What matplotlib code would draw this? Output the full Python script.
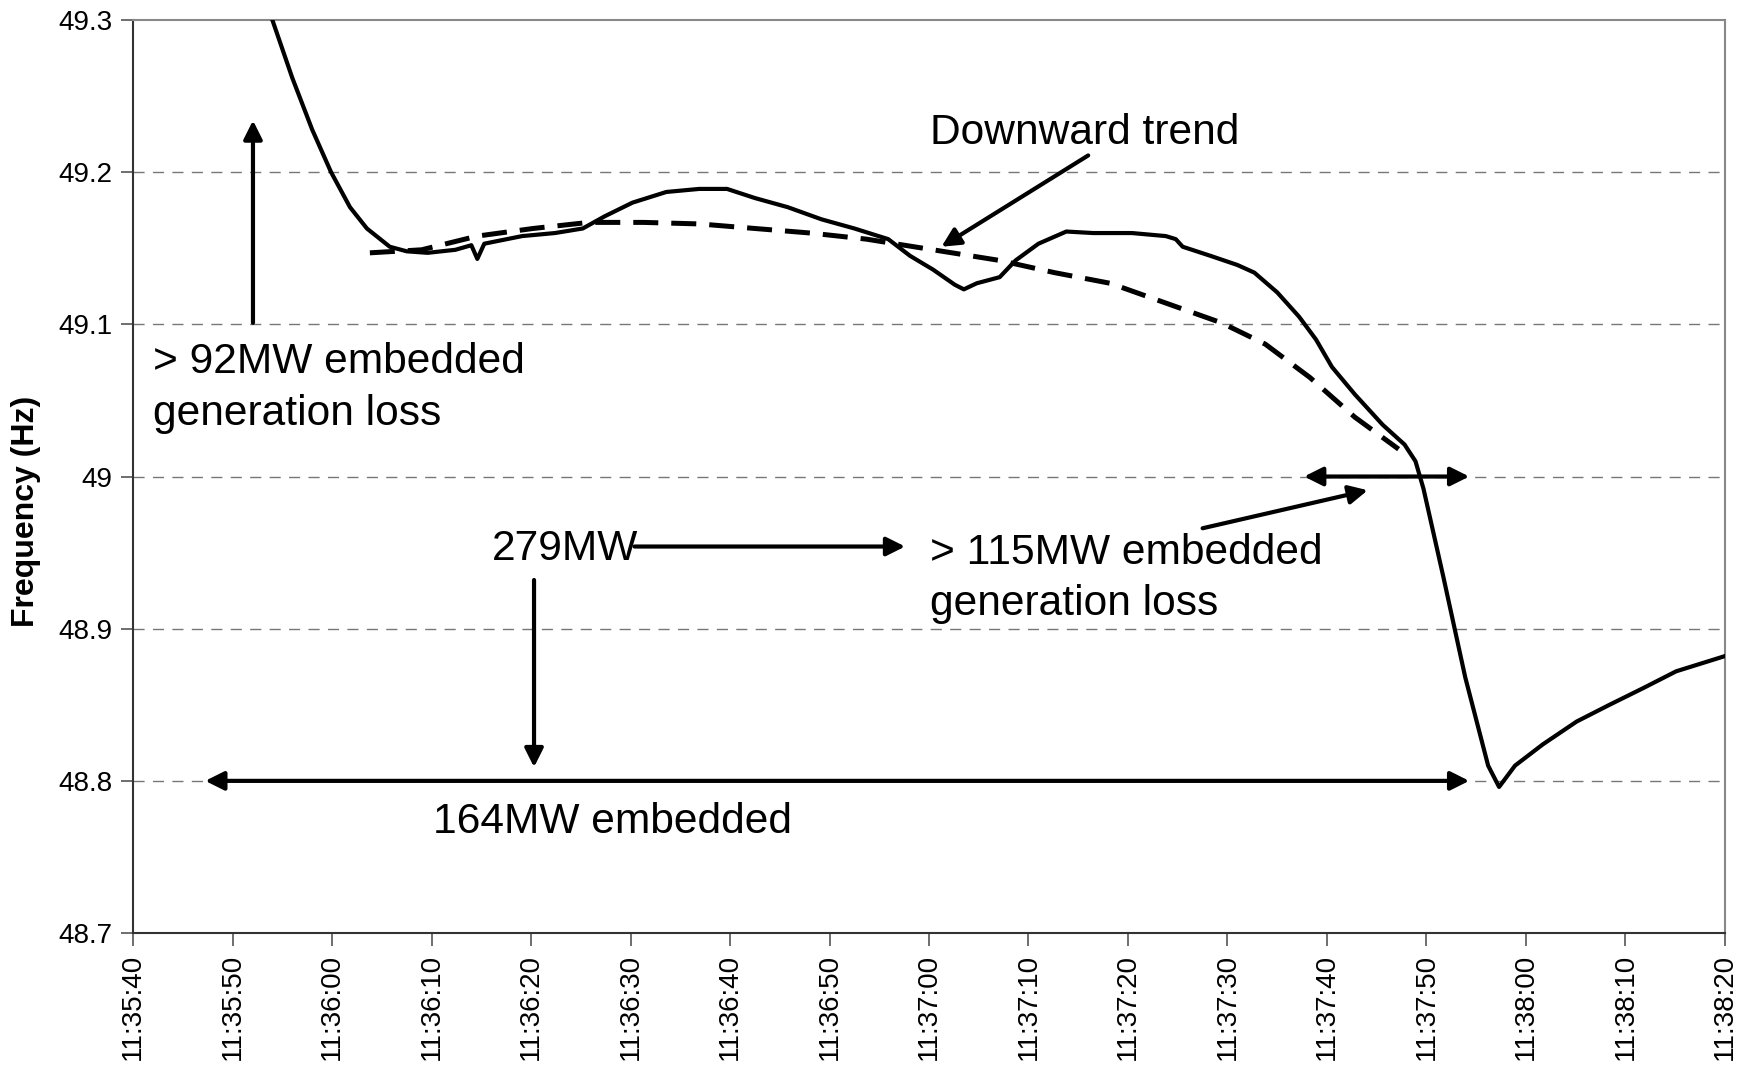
import matplotlib
matplotlib.use("Agg")
import matplotlib.pyplot as plt

plt.rcParams['font.family'] = ['Liberation Sans', 'DejaVu Sans']

# ---- data (seconds after 11:35:40) ----
freq_t = [13.0, 14.0, 16.0, 18.0, 19.9, 21.8, 23.5, 25.8, 27.5, 29.6, 32.4, 34.0, 34.6, 35.3,
          39.1, 42.4, 45.2, 47.4, 50.2, 53.6, 56.9, 59.7, 62.5, 65.8, 69.2, 72.5, 75.9,
          78.1, 80.4, 82.6, 83.5, 84.8, 87.1, 88.7, 91.0, 93.8, 96.5, 100.4, 103.8,
          104.8, 105.5, 108.3, 111.0, 112.7, 115.0, 117.2, 118.9, 120.5, 122.8, 125.6,
          127.8, 128.9, 129.7, 131.7, 133.9, 136.2, 137.3, 138.9, 141.7, 145.1,
          148.4, 151.8, 155.1, 160.0]
freq_hz = [49.320, 49.300, 49.262, 49.228, 49.200, 49.177, 49.163, 49.151, 49.148, 49.147,
           49.149, 49.152, 49.143, 49.153, 49.158, 49.160, 49.163, 49.171, 49.180, 49.187,
           49.189, 49.189, 49.183, 49.177, 49.169, 49.163, 49.156, 49.145, 49.136, 49.126,
           49.123, 49.127, 49.131, 49.142, 49.153, 49.161, 49.160, 49.160, 49.158, 49.156,
           49.151, 49.145, 49.139, 49.134, 49.121, 49.105, 49.090, 49.072, 49.054, 49.034,
           49.021, 49.010, 48.992, 48.934, 48.868, 48.810, 48.796, 48.810, 48.824, 48.839,
           48.850, 48.861, 48.872, 48.882]

trend_t = [23.8, 29.0, 34.6, 40.2, 45.8, 51.3, 56.9, 62.5, 68.1, 73.7, 80.4, 87.1, 92.6,
           98.2, 103.8, 109.4, 113.8, 118.3, 122.8, 127.2]
trend_hz = [49.147, 49.149, 49.158, 49.163, 49.167, 49.167, 49.166, 49.163, 49.160, 49.156,
            49.149, 49.142, 49.134, 49.127, 49.114, 49.101, 49.087, 49.065, 49.039, 49.018]

tick_secs = [0, 10, 20, 30, 40, 50, 60, 70, 80, 90, 100, 110, 120, 130, 140, 150, 160]
tick_labels = ["11:35:40", "11:35:50", "11:36:00", "11:36:10", "11:36:20", "11:36:30",
               "11:36:40", "11:36:50", "11:37:00", "11:37:10", "11:37:20", "11:37:30",
               "11:37:40", "11:37:50", "11:38:00", "11:38:10", "11:38:20"]
y_ticks = [48.7, 48.8, 48.9, 49.0, 49.1, 49.2, 49.3]
y_labels = ["48.7", "48.8", "48.9", "49", "49.1", "49.2", "49.3"]

fig = plt.figure(figsize=(17.42, 10.70), dpi=100)
ax = fig.add_axes([0.0764, 0.128, 0.9138, 0.8533])

ax.plot(freq_t, freq_hz, color='black', lw=3.0, solid_joinstyle='round', zorder=3)
ax.plot(trend_t, trend_hz, color='black', lw=3.6, dashes=(5, 2.6), zorder=3)

ax.set_xlim(0, 160)
ax.set_ylim(48.7, 49.3)
ax.set_xticks(tick_secs)
ax.set_xticklabels(tick_labels, rotation=90, fontsize=20)
ax.set_yticks(y_ticks)
ax.set_yticklabels(y_labels, fontsize=20)
ax.tick_params(axis='both', direction='out', length=9, width=1.2, color='#555555', pad=6)

for g in [48.8, 48.9, 49.0, 49.1, 49.2]:
    ax.axhline(g, color='#777777', lw=1.0, dashes=(8, 6), zorder=1)

for side in ['left', 'bottom']:
    ax.spines[side].set_color('#333333')
    ax.spines[side].set_linewidth(1.5)
for side in ['top', 'right']:
    ax.spines[side].set_color('#888888')
    ax.spines[side].set_linewidth(1.5)

ax.set_ylabel("Frequency (Hz)", fontsize=23, fontweight='bold')
ax.yaxis.set_label_coords(-0.058, 0.462)

fs = 30.6
arrow = dict(arrowstyle='-|>', lw=3, color='black', mutation_scale=28, shrinkA=0, shrinkB=0)
darrow = dict(arrowstyle='<|-|>', lw=3, color='black', mutation_scale=28, shrinkA=0, shrinkB=0)

# >92MW annotation
ax.annotate("", xy=(12.05, 49.234), xytext=(12.05, 49.101), arrowprops=arrow)
ax.text(2.0, 49.058, "> 92MW embedded\ngeneration loss", fontsize=fs, ha='left', va='center',
        linespacing=1.38)

# Downward trend
ax.text(80.1, 49.2256, "Downward trend", fontsize=fs, ha='left', va='center')
ax.annotate("", xy=(81.25, 49.151), xytext=(96.0, 49.211), arrowprops=arrow)

# 279MW
ax.text(36.05, 48.9526, "279MW", fontsize=fs, ha='left', va='center')
ax.annotate("", xy=(77.6, 48.954), xytext=(50.4, 48.954), arrowprops=arrow)
ax.annotate("", xy=(40.3, 48.809), xytext=(40.3, 48.932), arrowprops=arrow)

# >115MW
ax.text(80.1, 48.933, "> 115MW embedded\ngeneration loss", fontsize=fs, ha='left', va='center',
        linespacing=1.38)
ax.annotate("", xy=(124.1, 48.991), xytext=(107.5, 48.966), arrowprops=arrow)
ax.annotate("", xy=(134.3, 49.0), xytext=(117.7, 49.0), arrowprops=darrow)

# 164MW
ax.annotate("", xy=(134.3, 48.8), xytext=(7.25, 48.8), arrowprops=darrow)
ax.text(30.1, 48.773, "164MW embedded", fontsize=fs, ha='left', va='center')

fig.savefig("out.png", dpi=100)
